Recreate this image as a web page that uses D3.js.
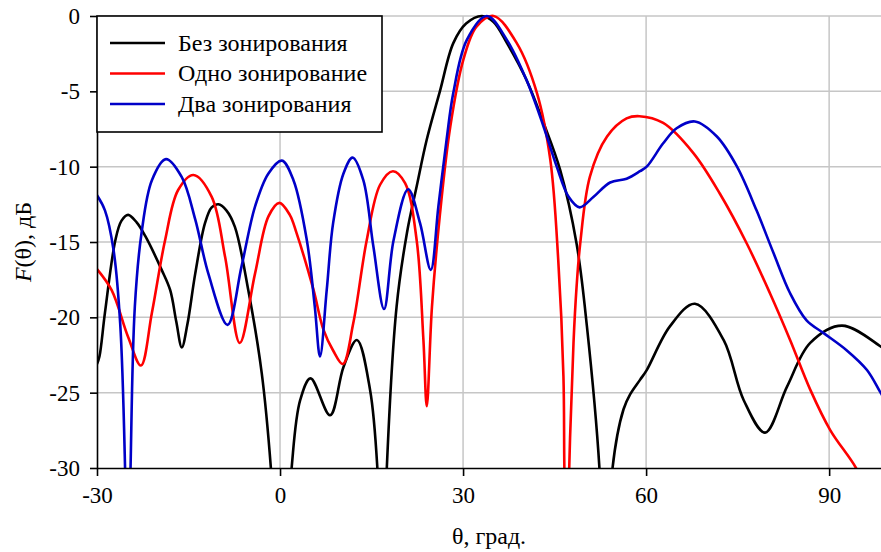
<!DOCTYPE html>
<html>
<head>
<meta charset="utf-8">
<script src="https://cdn.jsdelivr.net/npm/d3@7"></script>
<style>
  body { margin: 0; background: #fff; }
  svg { display: block; font-family: "Liberation Serif", "Times New Roman", serif; }
</style>
</head>
<body>
<svg id="chart" width="881" height="552"></svg>
<script>
// ------------------------------------------------------
// DATA (angle, grad / level, dB)
// ------------------------------------------------------
var xTicks = [-30, 0, 30, 60, 90];
var yTicks = [0, -5, -10, -15, -20, -25, -30];
var seriesNames = ["Без зонирования", "Одно зонирование", "Два зонирования"];
var seriesColors = ["#000000", "#ff0000", "#0000c8"];

// без зонирования
var thetaNone = [-30, -29.6, -28.7, -27.0, -26.0, -24.9, -23.5, -22.1, -19.4, -18.0, -17.0, -16.1, -15.2, -13.9, -12.3, -11.2, -10.1, -8.8, -7.4, -5.2, -3.0, -1.5, 0.2, 1.9, 3.3, 5.0, 8.2, 10.4, 12.6, 14.75, 15.95, 16.7, 17.5, 19.1, 20.8, 22.4, 24.05, 26.2, 28.4, 30.5, 33.1, 35.0, 37.2, 40.4, 43.2, 45.9, 48.6, 50.3, 52.35, 53.4, 54.5, 56.3, 57.4, 59.0, 60.1, 63.9, 68.0, 72.7, 76.0, 79.5, 83.1, 86.9, 92.1, 98.5, 100];
var levelNone = [-23.1, -22.6, -19.7, -14.9, -13.6, -13.2, -13.7, -14.6, -16.85, -18.2, -20.3, -22.0, -20.5, -17.1, -13.75, -12.7, -12.5, -12.9, -14.0, -18.2, -23.7, -30, -42, -30, -25.5, -24.05, -26.5, -23.3, -21.5, -24.8, -30, -42, -30, -19.3, -14.4, -11.3, -8.2, -5.0, -1.8, -0.5, 0, -0.4, -1.8, -4.25, -7.1, -10.2, -15.1, -20.6, -30, -42, -30, -26.1, -25.1, -24.15, -23.5, -20.6, -19.1, -21.5, -25.5, -27.65, -24.6, -21.7, -20.55, -21.95, -22.4];

// одно зонирование
var thetaOne = [-30, -27.6, -24.9, -22.8, -21.0, -18.85, -16.7, -14.2, -11.2, -9.0, -6.6, -4.1, -1.9, -0.1, 1.6, 2.7, 5.5, 7.1, 8.7, 10.3, 12.0, 14.2, 16.4, 18.5, 20.5, 22.4, 23.5, 24.05, 24.9, 26.2, 27.9, 30.05, 32.2, 35.0, 38.8, 42.1, 44.3, 45.6, 46.45, 46.6, 47.0, 47.4, 48.1, 48.6, 49.2, 50.8, 53.6, 56.8, 58.9, 62.8, 67.75, 72.1, 76.5, 80.3, 83.6, 86.9, 90.2, 94.4, 96];
var levelOne = [-16.8, -18.2, -21.3, -23.2, -19.7, -14.9, -11.55, -10.55, -12.0, -16.0, -21.7, -17.1, -13.3, -12.4, -13.2, -14.4, -18.2, -20.8, -22.2, -23.1, -20.4, -14.9, -11.2, -10.3, -11.1, -14.9, -21.5, -25.9, -19.3, -13.2, -7.35, -2.9, -0.7, 0, -1.8, -5.1, -9.55, -16.2, -23.9, -30, -40, -30, -21.7, -18.0, -15.1, -10.65, -8.0, -6.8, -6.65, -7.1, -9.1, -11.8, -15.1, -18.4, -21.5, -24.8, -27.5, -30, -31.5];

// два зонирования
var thetaTwo = [-30, -28.7, -27.3, -26.2, -25.4, -24.95, -24.5, -23.8, -22.7, -21.0, -18.7, -16.1, -13.9, -11.75, -8.6, -6.3, -4.1, -1.9, 0.3, 2.2, 4.4, 5.7, 6.55, 7.65, 8.7, 10.4, 11.9, 13.65, 15.3, 17.05, 18.6, 21.0, 22.95, 24.7, 25.95, 27.3, 28.4, 30.6, 33.9, 37.2, 40.4, 43.2, 45.35, 47.3, 49.1, 51.4, 54.1, 56.8, 59.0, 60.1, 62.8, 65.0, 68.0, 71.6, 74.9, 78.1, 80.9, 83.6, 86.3, 89.1, 92.9, 96.2, 98.5, 100];
var levelTwo = [-11.9, -12.9, -15.5, -20.4, -30, -42, -30, -19.3, -14.4, -10.9, -9.5, -10.7, -13.5, -17.1, -20.5, -16.6, -12.65, -10.45, -9.6, -10.9, -14.9, -19.3, -22.6, -18.2, -13.75, -10.45, -9.4, -10.9, -15.3, -19.45, -14.9, -11.5, -13.75, -16.85, -12.65, -8.2, -5.1, -1.6, 0, -1.6, -4.25, -7.35, -10.0, -12.0, -12.7, -12.0, -11.05, -10.8, -10.3, -10.0, -8.45, -7.45, -7.0, -8.0, -10.0, -12.9, -15.75, -18.4, -20.2, -21.05, -22.2, -23.5, -25.05, -26];

// ------------------------------------------------------
// build series table
// ------------------------------------------------------
function zipSeries(thetas, levels) {
    var out = [];
    for (var i = 0; i < thetas.length; i++) {
        out.push({ theta: thetas[i], level: levels[i] });
    }
    return out;
}
var series = [zipSeries(thetaNone, levelNone), zipSeries(thetaOne, levelOne), zipSeries(thetaTwo, levelTwo)];

// ------------------------------------------------------
// chart setup
// ------------------------------------------------------
function drawChart() {
    var svg = d3.select("#chart");
    var m = { left: 97, right: 881, top: 16, bottom: 468 };
    var serif = "'Liberation Serif', 'Times New Roman', serif";

    var x = d3.scaleLinear().domain([-30, 98.5]).range([m.left, m.right]);
    var y = d3.scaleLinear().domain([-30, 0]).range([m.bottom, m.top]);

    // grid
    svg.append("g").selectAll("line")
        .data(yTicks.filter(function(d) { return d > -30; }))
        .enter().append("line")
        .attr("x1", m.left).attr("x2", m.right)
        .attr("y1", function(d) { return y(d); }).attr("y2", function(d) { return y(d); })
        .attr("stroke", "#c6c6c6").attr("stroke-width", 1.5);

    svg.append("g").selectAll("line")
        .data(xTicks.filter(function(d) { return d > -30; }))
        .enter().append("line")
        .attr("x1", function(d) { return x(d); }).attr("x2", function(d) { return x(d); })
        .attr("y1", m.top).attr("y2", m.bottom)
        .attr("stroke", "#c6c6c6").attr("stroke-width", 1.5);

    // curves
    svg.append("clipPath").attr("id", "plotClip")
        .append("rect")
        .attr("x", m.left).attr("y", m.top - 4)
        .attr("width", m.right - m.left).attr("height", m.bottom - m.top + 4);

    var line = d3.line()
        .x(function(d) { return x(d.theta); })
        .y(function(d) { return y(d.level); })
        .curve(d3.curveCatmullRom.alpha(0.5));

    svg.append("g").attr("clip-path", "url(#plotClip)")
        .selectAll("path")
        .data(series)
        .enter().append("path")
        .attr("d", line)
        .attr("fill", "none")
        .attr("stroke", function(d, i) { return seriesColors[i]; })
        .attr("stroke-width", 2.6)
        .attr("stroke-linejoin", "round");

    // axes
    var yAxis = svg.append("g")
        .attr("transform", "translate(" + m.left + ",0)")
        .call(d3.axisLeft(y).tickValues(yTicks).tickSize(7).tickSizeOuter(0).tickPadding(10)
            .tickFormat(function(d) { return String(d); }));

    var xAxis = svg.append("g")
        .attr("transform", "translate(0," + m.bottom + ")")
        .call(d3.axisBottom(x).tickValues(xTicks).tickSize(8).tickSizeOuter(0).tickPadding(11)
            .tickFormat(function(d) { return String(d); }));

    [yAxis, xAxis].forEach(function(a) {
        a.select(".domain").attr("stroke", "#000").attr("stroke-width", 1.6);
        a.selectAll(".tick line").attr("stroke", "#000").attr("stroke-width", 1.6);
        a.selectAll(".tick text").attr("fill", "#000")
            .attr("font-family", serif)
            .attr("font-size", 23);
    });

    // axis titles
    svg.append("text")
        .attr("x", (m.left + m.right) / 2).attr("y", 544)
        .attr("text-anchor", "middle")
        .attr("font-size", 24)
        .text("θ, град.");

    var yTitle = svg.append("text")
        .attr("transform", "translate(31,242) rotate(-90)")
        .attr("text-anchor", "middle")
        .attr("font-size", 24);
    yTitle.append("tspan").attr("font-style", "italic").text("F");
    yTitle.append("tspan").text("(θ), дБ");

    // legend
    var legend = svg.append("g");
    legend.append("rect")
        .attr("x", m.left).attr("y", m.top)
        .attr("width", 285).attr("height", 116)
        .attr("fill", "#fff").attr("stroke", "#000").attr("stroke-width", 1.6);

    var items = legend.selectAll("g.item")
        .data(seriesNames)
        .enter().append("g")
        .attr("class", "item")
        .attr("transform", function(d, i) { return "translate(0," + (43 + i * 30.5) + ")"; });

    items.append("line")
        .attr("x1", 110).attr("x2", 165)
        .attr("stroke", function(d, i) { return seriesColors[i]; })
        .attr("stroke-width", 2.6);

    items.append("text")
        .attr("x", 178).attr("dy", "0.33em")
        .attr("font-size", 24)
        .text(function(d) { return d; });
}

drawChart();
</script>
</body>
</html>
